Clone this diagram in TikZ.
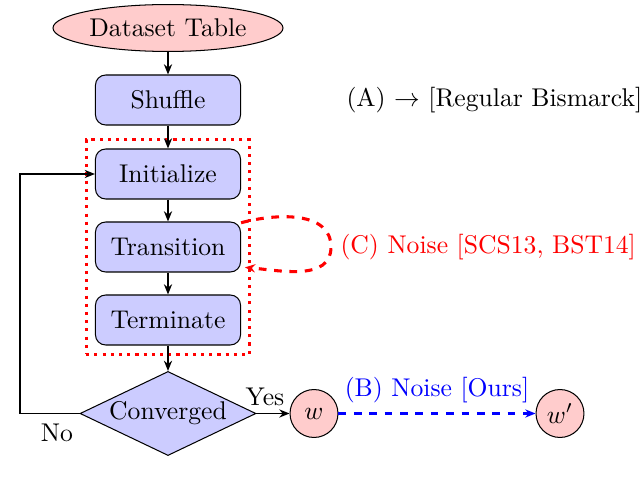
\documentclass[tikz,border=0pt]{standalone}
\usetikzlibrary{shapes.geometric,arrows.meta,fit}
\begin{document}
\begin{tikzpicture}[x=0.39pt,y=-0.39pt,
  >={Stealth[length=4pt,width=3.2pt]},
  proc/.style={draw, rounded corners=4pt, fill=blue!20, minimum width=56.6pt, minimum height=19.5pt, inner sep=0pt},
  term/.style={draw, ellipse, fill=red!20, minimum width=89.7pt, minimum height=18.3pt, inner sep=0pt},
  wnode/.style={draw, circle, fill=red!20, minimum size=18.7pt, inner sep=0pt},
  dec/.style={draw, diamond, aspect=2.1, fill=blue!20, minimum width=68.6pt, minimum height=32.8pt, inner sep=0pt},
  flow/.style={->, semithick}]
\useasboundingbox (0,0) rectangle (640,493);
\node[term] (data) at (168,28) {Dataset Table};
\node[proc] (shuf) at (168,100) {Shuffle};
\node[proc] (init) at (168,174) {Initialize};
\node[proc] (trans) at (168,247) {Transition};
\node[proc] (termn) at (168,320) {Terminate};
\node[dec] (conv) at (168,413.5) {Converged};
\node[wnode] (w) at (314,413.5) {$w$};
\node[wnode] (wp) at (560,413.5) {$w'$};
\node[draw=red, dotted, very thick, inner sep=3.4pt, fit=(init)(termn)] (box) {};
\coordinate (loopc) at (331,247);
\coordinate (lc) at (20,413.5);
\coordinate (lt) at (20,174);
\draw[flow] (data) -- (shuf);
\draw[flow] (shuf) -- (init);
\draw[flow] (init) -- (trans);
\draw[flow] (trans) -- (termn);
\draw[flow] (termn) -- (conv);
\draw[flow] (conv) -- (w);
\draw[flow] (conv.west) -- (lc) -- (lt) -- (init.west);
\draw[->, red, dashed, very thick] ([yshift=-0.5pt]trans.north east) to[out=15, in=90] (loopc) to[out=-90, in=-5] ([xshift=1.5pt,yshift=2pt]trans.south east);
\draw[->, blue, dashed, very thick] (w) -- (wp);
\node (yes) at (265,397) {Yes};
\node (no) at (57,433) {No};
\node[blue] (bl) at (437,390) {(B) Noise [Ours]};
\node[anchor=west, inner sep=0pt] (al) at (346,100) {(A) $\rightarrow$ [Regular Bismarck]};
\node[anchor=west, inner sep=0pt, red] (cl) at (340,247) {(C) Noise [SCS13, BST14]};
\end{tikzpicture}
\end{document}
